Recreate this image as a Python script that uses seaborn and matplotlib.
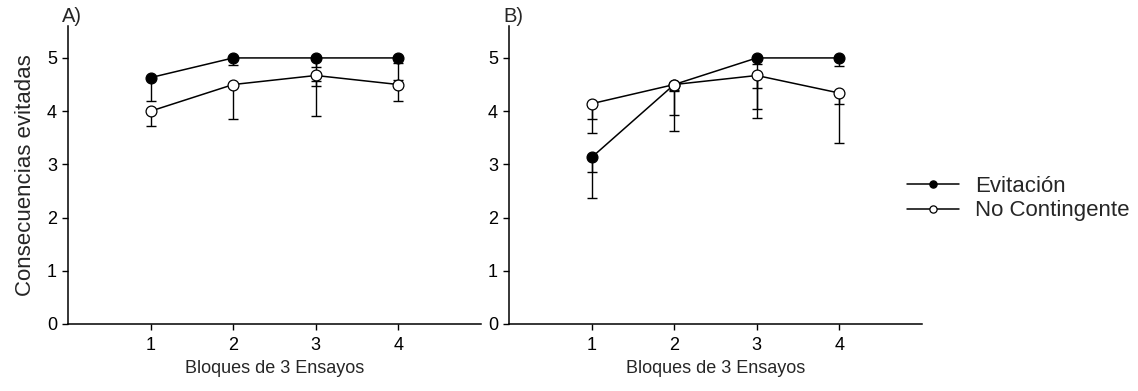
import matplotlib
matplotlib.use("Agg")
import matplotlib.pyplot as plt
import pandas as pd
import numpy as np
import seaborn as sns
from matplotlib.lines import Line2D

# bloques de ensayos (eje x)
bloques = [1, 2, 3, 4]
series = ["Evitación", "No Contingente"]

# panel A: medias y barras de error (solo hacia abajo)
evit_a = [4.63, 5.0, 5.0, 5.0]
nocont_a = [4.0, 4.5, 4.67, 4.5]
evit_a_err = [0.43, 0.13, 0.17, 0.10]
evit_a_err2 = [np.nan, np.nan, 0.44, 0.41]
nocont_a_err = [0.27, 0.64, 0.19, 0.30]
nocont_a_err2 = [np.nan, np.nan, 0.76, np.nan]

# panel B
evit_b = [3.13, 4.5, 5.0, 5.0]
nocont_b = [4.14, 4.5, 4.67, 4.34]
evit_b_err = [0.28, 0.13, 0.12, 0.15]
evit_b_err2 = [0.77, 0.87, 0.96, np.nan]
nocont_b_err = [0.29, 0.10, 0.24, 0.21]
nocont_b_err2 = [0.55, 0.58, 0.80, 0.94]

sns.set_style("ticks")
plt.rcParams["font.family"] = ["Liberation Sans", "DejaVu Sans"]
FS = 13


def down_bars(ax, y, err):
    # error bars drawn downwards only
    x = np.array(bloques, dtype=float)
    y = np.array(y, dtype=float)
    err = np.array(err, dtype=float)
    ok = ~np.isnan(err)
    ax.errorbar(x[ok], y[ok], yerr=[err[ok], np.zeros(ok.sum())], fmt="none",
                ecolor="black", elinewidth=1.0, capsize=3.3, capthick=1.0, zorder=1)


def panel(ax, evit, nocont, errs):
    df = pd.DataFrame({
        "bloque": bloques * 2,
        "valor": evit + nocont,
        "grupo": [series[0]] * 4 + [series[1]] * 4,
    })
    for e in errs:
        down_bars(ax, *e)
    for name, face in zip(series, ["black", "white"]):
        sns.lineplot(data=df[df["grupo"] == name], x="bloque", y="valor",
                     color="black", marker="o", markersize=7.8,
                     markerfacecolor=face, markeredgecolor="black",
                     markeredgewidth=0.9, linewidth=1.1, errorbar=None,
                     legend=False, ax=ax, zorder=3)
    ax.set_xlim(0, 5)
    ax.set_ylim(0, 5.6)
    ax.set_xticks(bloques)
    ax.set_yticks([0, 1, 2, 3, 4, 5])
    sns.despine(ax=ax)
    for s in ["left", "bottom"]:
        ax.spines[s].set_linewidth(1.1)
        ax.spines[s].set_color("black")
    ax.tick_params(direction="out", length=4, width=1, colors="black",
                   labelsize=FS)
    ax.tick_params(axis="x", pad=5)
    ax.tick_params(axis="y", pad=4)
    ax.set_xlabel("Bloques de 3 Ensayos", fontsize=FS, labelpad=5)
    ax.set_ylabel("")


fig = plt.figure(figsize=(11.38, 3.91), dpi=100)
W, H = 1138, 391
ax_a = fig.add_axes([68 / W, 1 - 324 / H, 413 / W, 298 / H])
ax_b = fig.add_axes([509 / W, 1 - 324 / H, 413 / W, 298 / H])

panel(ax_a, evit_a, nocont_a,
      [(evit_a, evit_a_err), (evit_a, evit_a_err2),
       (nocont_a, nocont_a_err), (nocont_a, nocont_a_err2)])
panel(ax_b, evit_b, nocont_b,
      [(evit_b, evit_b_err), (evit_b, evit_b_err2),
       (nocont_b, nocont_b_err), (nocont_b, nocont_b_err2)])

ax_a.set_ylabel("Consecuencias evitadas", fontsize=16, labelpad=8)

fig.text(62 / W, 1 - 17 / H, "A)", fontsize=14.5, va="center", ha="left")
fig.text(503 / W, 1 - 17 / H, "B)", fontsize=14.5, va="center", ha="left")

handles = [Line2D([], [], color="black", lw=1.1, marker="o", markersize=5.2,
                  markerfacecolor=f, markeredgecolor="black", markeredgewidth=0.9)
           for f in ["black", "white"]]
fig.legend(handles, series, loc="upper left",
           bbox_to_anchor=(907 / W, 1 - 176 / H), frameon=False,
           fontsize=16, handlelength=2.35, handletextpad=0.7,
           labelspacing=0.15, borderpad=0, borderaxespad=0)

fig.savefig("out.png", dpi=100)
